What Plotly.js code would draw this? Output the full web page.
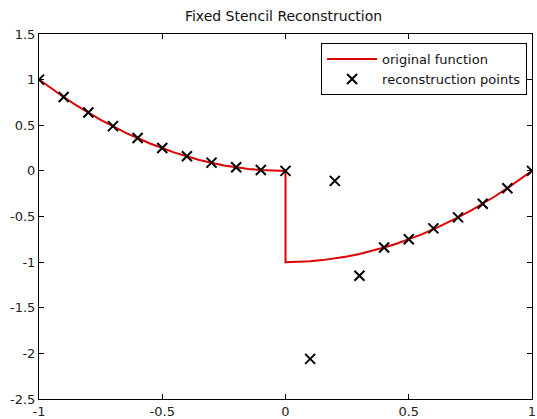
<!DOCTYPE html>
<html>
<head>
<meta charset="utf-8">
<script src="https://cdn.plot.ly/plotly-3.0.1.min.js"></script>
<style>html,body{margin:0;padding:0;background:#fff;}#chart{width:537px;height:419px;}</style>
</head>
<body>
<div id="chart"></div>
<script>
// original function
var funcX = [-1,-0.95,-0.9,-0.85,-0.8,-0.75,-0.7,-0.65,-0.6,-0.55,-0.5,-0.45,-0.4,-0.35,-0.3,-0.25,-0.2,-0.15,-0.1,-0.05,0,
             0,0.05,0.1,0.15,0.2,0.25,0.3,0.35,0.4,0.45,0.5,0.55,0.6,0.65,0.7,0.75,0.8,0.85,0.9,0.95,1];
var funcY = [1,0.90,0.81,0.72,0.64,0.56,0.49,0.42,0.36,0.30,0.25,0.20,0.16,0.12,0.09,0.06,0.04,0.02,0.01,0.003,0,
             -1,-0.997,-0.99,-0.978,-0.96,-0.938,-0.91,-0.878,-0.84,-0.798,-0.75,-0.698,-0.64,-0.578,-0.51,-0.438,-0.36,-0.278,-0.19,-0.098,0];
// reconstruction points
var reconX = [-1,-0.9,-0.8,-0.7,-0.6,-0.5,-0.4,-0.3,-0.2,-0.1,0,0.1,0.2,0.3,0.4,0.5,0.6,0.7,0.8,0.9,1];
var reconY = [1,0.81,0.64,0.49,0.36,0.25,0.16,0.09,0.04,0.01,0,-2.06,-0.11,-1.15,-0.84,-0.75,-0.63,-0.51,-0.36,-0.19,0];
var xTicks = [-1,-0.5,0,0.5,1];
var xTickText = ['-1','-0.5','0','0.5','1'];
var yTicks = [-2.5,-2,-1.5,-1,-0.5,0,0.5,1,1.5];
var yTickText = ['-2.5','-2','-1.5','-1','-0.5','0','0.5','1','1.5'];

var font = 'DejaVu Sans, sans-serif';
var traces = [
  {x: funcX, y: funcY, mode: 'lines', name: 'original function',
   line: {color: '#e00000', width: 2}},
  {x: reconX, y: reconY, mode: 'markers', name: 'reconstruction points',
   marker: {symbol: 'x-thin', size: 10, color: '#000', line: {color: '#000', width: 2}}}
];
var axisCommon = {
  showgrid: false, zeroline: false, showline: true, mirror: 'ticks',
  linecolor: '#000', linewidth: 1, ticks: 'inside', ticklen: 5, tickcolor: '#000',
  ticklabeloverflow: 'allow',
  tickfont: {family: font, size: 13, color: '#222'}
};
var layout = {
  width: 537, height: 419,
  margin: {l: 39, r: 5, t: 34, b: 20},
  paper_bgcolor: '#fff', plot_bgcolor: '#fff',
  title: {text: 'Fixed Stencil Reconstruction', font: {family: font, size: 14, color: '#111'},
          x: 0.528, xanchor: 'center', y: 0.962, yanchor: 'middle'},
  xaxis: Object.assign({}, axisCommon, {range: [-1, 1], tickvals: xTicks, ticktext: xTickText}),
  yaxis: Object.assign({}, axisCommon, {range: [-2.5, 1.5], tickvals: yTicks, ticktext: yTickText}),
  showlegend: true,
  legend: {x: 0.99, xanchor: 'right', y: 0.975, yanchor: 'top',
           bgcolor: '#fff', bordercolor: '#000', borderwidth: 1, itemwidth: 50,
           font: {family: font, size: 13, color: '#111'}, tracegroupgap: 0}
};
Plotly.newPlot('chart', traces, layout, {displayModeBar: false, staticPlot: true});
</script>
</body>
</html>
